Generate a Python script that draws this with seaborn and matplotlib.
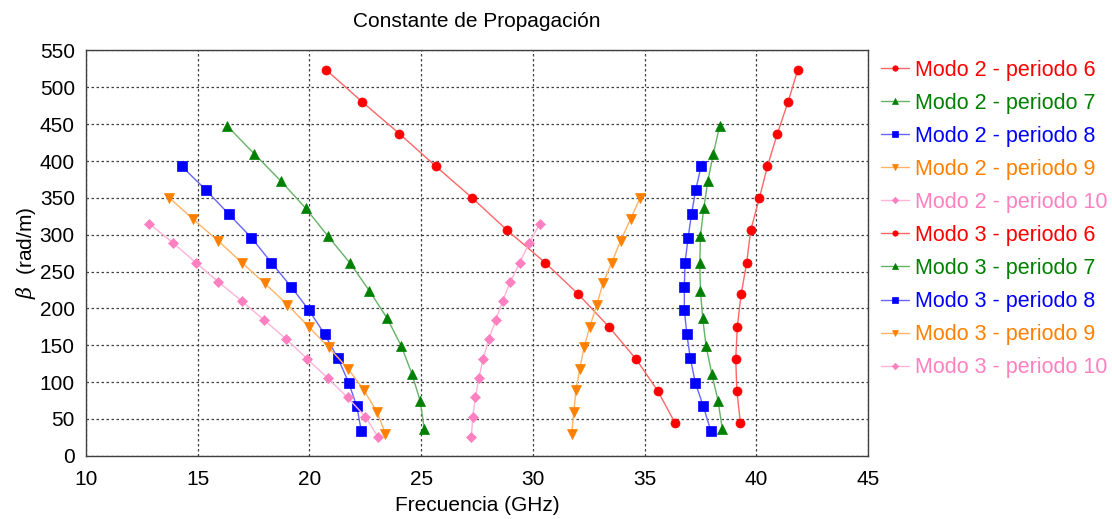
import matplotlib
matplotlib.use("Agg")
import matplotlib.pyplot as plt
import matplotlib.colors as mcolors
import numpy as np
import seaborn as sns

# Propagation constant beta (rad/m) for each period
beta_p6 = [44, 88, 131, 175, 219, 262, 306, 350, 393, 437, 480, 524]
beta_p7 = [36, 74, 111, 149, 187, 224, 261, 298, 336, 373, 410, 448]
beta_p8 = [34, 67, 99, 132, 165, 198, 229, 262, 296, 328, 361, 393]
beta_p9 = [30, 59, 89, 118, 147, 175, 205, 234, 262, 292, 321, 350]
beta_p10 = [26, 53, 79, 105, 131, 158, 184, 210, 236, 262, 289, 315]

# Frequency (GHz), mode 2
f_m2_p6 = [36.37, 35.59, 34.62, 33.40, 32.04, 30.55, 28.85, 27.28, 25.65, 24.03, 22.37, 20.74]
f_m2_p7 = [25.14, 24.96, 24.59, 24.11, 23.47, 22.68, 21.83, 20.83, 19.83, 18.72, 17.52, 16.31]
f_m2_p8 = [22.32, 22.12, 21.76, 21.28, 20.68, 19.97, 19.19, 18.30, 17.40, 16.39, 15.36, 14.28]
f_m2_p9 = [23.40, 23.03, 22.44, 21.73, 20.86, 19.97, 19.01, 18.00, 16.98, 15.90, 14.80, 13.73]
f_m2_p10 = [23.06, 22.50, 21.71, 20.83, 19.91, 18.97, 17.98, 16.97, 15.92, 14.92, 13.89, 12.83]

# Frequency (GHz), mode 3
f_m3_p6 = [39.29, 39.13, 39.08, 39.15, 39.32, 39.57, 39.75, 40.14, 40.50, 40.94, 41.42, 41.86]
f_m3_p7 = [38.48, 38.29, 38.01, 37.75, 37.60, 37.50, 37.47, 37.50, 37.65, 37.83, 38.08, 38.36]
f_m3_p8 = [37.96, 37.63, 37.27, 37.05, 36.89, 36.78, 36.78, 36.81, 36.95, 37.10, 37.29, 37.53]
f_m3_p9 = [31.74, 31.83, 31.93, 32.10, 32.29, 32.55, 32.86, 33.14, 33.53, 33.93, 34.37, 34.80]
f_m3_p10 = [27.25, 27.31, 27.43, 27.58, 27.77, 28.03, 28.34, 28.65, 28.99, 29.41, 29.84, 30.31]

periods = [6, 7, 8, 9, 10]
betas = [beta_p6, beta_p7, beta_p8, beta_p9, beta_p10]
freqs_mode2 = [f_m2_p6, f_m2_p7, f_m2_p8, f_m2_p9, f_m2_p10]
freqs_mode3 = [f_m3_p6, f_m3_p7, f_m3_p8, f_m3_p9, f_m3_p10]

colors = ["#ff0000", "#008000", "#0000ff", "#ff8000", "#ff80c0"]
markers = ["o", "^", "s", "v", "D"]
msizes = [6.5, 7.5, 6.5, 7.5, 5.5]

sns.set_style("white")
plt.rcParams["font.family"] = ["Liberation Sans", "DejaVu Sans"]
plt.rcParams["mathtext.fontset"] = "dejavuserif"
plt.rcParams["text.color"] = "black"
plt.rcParams["axes.labelcolor"] = "black"
plt.rcParams["xtick.color"] = "black"
plt.rcParams["ytick.color"] = "black"

fig = plt.figure(figsize=(11.12, 5.19), dpi=100)
ax = fig.add_axes([0.0773, 0.122, 0.7033, 0.7807])


def lighten(c, amt=0.4):
    r, g, b = mcolors.to_rgb(c)
    return (r + (1 - r) * amt, g + (1 - g) * amt, b + (1 - b) * amt)


series = []
for mode, freqs in ((2, freqs_mode2), (3, freqs_mode3)):
    for i, p in enumerate(periods):
        series.append((f"Modo {mode} - periodo {p}", freqs[i], betas[i], i))

for label, f, b, i in series:
    sns.lineplot(
        x=f, y=b, sort=False, estimator=None, ax=ax, label=label,
        color=lighten(colors[i]), linewidth=1.0,
        marker=markers[i], markersize=msizes[i],
        markerfacecolor=colors[i], markeredgecolor=colors[i],
        markeredgewidth=0.5,
    )

ax.set_xlim(10, 45)
ax.set_ylim(0, 550)
ax.set_xticks(np.arange(10, 46, 5))
ax.set_yticks(np.arange(0, 551, 50))
ax.grid(True, linestyle=(0, (2, 2)), color="#404040", linewidth=0.9)
for s in ax.spines.values():
    s.set_color("#404040")
    s.set_linewidth(1.0)
ax.tick_params(axis="both", direction="out", length=4, width=1, color="#404040",
               labelsize=15, labelcolor="black")
ax.tick_params(axis="x", pad=6)
ax.tick_params(axis="y", pad=4)

ax.set_title("Constante de Propagación", fontsize=15, pad=17, color="black")
ax.set_xlabel("Frecuencia (GHz)", fontsize=15, labelpad=5)
ax.set_ylabel(r"$\beta$  (rad/m)", fontsize=15, labelpad=1)

leg = ax.legend(loc="upper left", bbox_to_anchor=(0.792, 0.885),
                bbox_transform=fig.transFigure, frameon=False, fontsize=15.5,
                handlelength=1.3, handletextpad=0.3, labelspacing=0.56,
                markerscale=0.6, borderpad=0, borderaxespad=0)
for txt, (_, _, _, i) in zip(leg.get_texts(), series):
    txt.set_color(colors[i])

fig.savefig("out.png", dpi=100)
